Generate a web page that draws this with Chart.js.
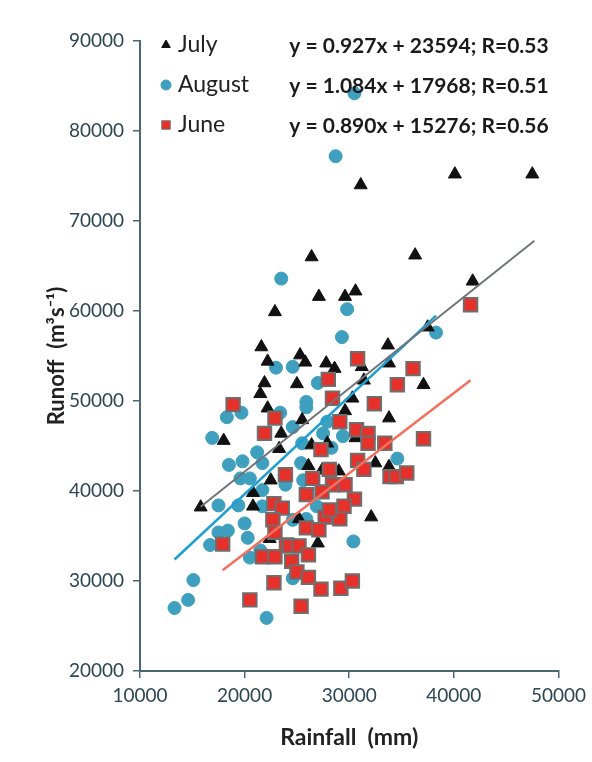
<!DOCTYPE html>
<html>
<head>
<meta charset="utf-8">
<script src="https://cdn.jsdelivr.net/npm/chart.js@4.4.1/dist/chart.umd.min.js"></script>
<style>
  html, body { margin: 0; padding: 0; background: #fff; }
</style>
</head>
<body>
<canvas id="runoffChart" width="592" height="762"></canvas>
<script>
// monthly rainfall (mm) vs runoff
const julyRain = [47500, 40100, 31100, 36300, 26400, 41800, 22900, 27100, 29600, 30600, 37500, 33700, 21600, 22200, 25300, 25800, 27800, 28600, 31200, 33800, 21900, 25000, 31400, 37100, 21500, 30300, 22200, 29600, 25500, 33800, 23500, 18000, 30600, 23300, 26400, 27900, 32500, 33800, 26100, 27400, 29000, 22500, 20800, 15800, 20800, 25200, 32100, 22400, 27000];
const julyRunoff = [75200, 75200, 74000, 66200, 66000, 63300, 59900, 61600, 61600, 62200, 58200, 56200, 56000, 54400, 55100, 54300, 54200, 53600, 53800, 54200, 52000, 51900, 52300, 51800, 50800, 50300, 49200, 48900, 47900, 48100, 46400, 45600, 45900, 44700, 45100, 45300, 43100, 42700, 42800, 42300, 42200, 41200, 39800, 38200, 38300, 36900, 37100, 34700, 34200];

const augRain = [30500, 28700, 23500, 29800, 29300, 38300, 23000, 24600, 27000, 19700, 18300, 25900, 25900, 27900, 24600, 23400, 16900, 29400, 27500, 28300, 21200, 18500, 19800, 21700, 19600, 20500, 23900, 25400, 25600, 34600, 21700, 17500, 19400, 21700, 26900, 20000, 24600, 25900, 17500, 18400, 16700, 20300, 30400, 21500, 20500, 24600, 15100, 14600, 13300, 22100, 25500];
const augRunoff = [84200, 77200, 63600, 60200, 57100, 57600, 53700, 53800, 52000, 48700, 48200, 49900, 49300, 47700, 47100, 48700, 45900, 46100, 46400, 44800, 44300, 42900, 43300, 43100, 41400, 41400, 40700, 43100, 41200, 43600, 40100, 38400, 38400, 38300, 38300, 36400, 36800, 36900, 35400, 35600, 34000, 34800, 34400, 33400, 32600, 30300, 30100, 27900, 27000, 25900, 45300];

const juneRain = [41600, 30800, 28000, 36100, 34600, 28400, 32400, 29100, 18900, 22900, 30700, 31800, 31800, 33400, 37100, 21900, 27300, 30800, 31400, 33900, 34500, 35500, 23900, 28100, 26500, 28400, 29600, 27400, 25900, 30500, 29500, 22800, 23600, 22700, 27700, 29100, 28100, 22900, 25900, 27100, 17900, 24000, 24300, 25200, 26100, 21700, 22900, 24500, 25000, 26100, 27300, 29200, 30300, 22800, 20500, 25400];
const juneRunoff = [60700, 54700, 52400, 53600, 51800, 50300, 49700, 47700, 49600, 48100, 46800, 46400, 45300, 45300, 45800, 46400, 44600, 43400, 42400, 41600, 41600, 42000, 41800, 42400, 41400, 40700, 40700, 39900, 39600, 39100, 38300, 38600, 38100, 36800, 37100, 36900, 37900, 35400, 35900, 35700, 34100, 34000, 33900, 33900, 32900, 32700, 32700, 32200, 31000, 30400, 29100, 29200, 30000, 29800, 27900, 27200];

// fitted lines as printed on the chart, July / August / June
const months = ['July', 'August', 'June'];
const fitSlope = [0.927, 1.084, 0.890];
const fitIntercept = [23594, 17968, 15276];
const fitR = ['0.53', '0.51', '0.56'];
const fitFrom = [15800, 13300, 17900];
const fitTo = [47700, 38300, 41600];

const xTicks = [10000, 50000];
const yTicks = [20000, 90000];

const toPoints = (xs, ys) => xs.map((x, i) => ({ x: x, y: ys[i] }));
const fitLine = (i) => [fitFrom[i], fitTo[i]].map(x => ({ x: x, y: fitSlope[i] * x + fitIntercept[i] }));

const axisColor = '#4a6876';
const markerColors = ['#111111', '#3f9fbe', '#e8302a'];
const markerStyles = ['triangle', 'circle', 'rect'];

const legendPlugin = {
  id: 'monthLegend',
  afterDraw(chart) {
    const ctx = chart.ctx;
    ctx.save();
    months.forEach((m, i) => {
      const y = 45 + i * 40;
      ctx.fillStyle = markerColors[i];
      ctx.strokeStyle = i === 2 ? '#777' : markerColors[i];
      ctx.lineWidth = 1;
      Chart.helpers.drawPoint(ctx, { pointStyle: markerStyles[i], radius: i === 2 ? 6 : 5, borderWidth: 1 }, 166, y);

      ctx.fillStyle = '#222';
      ctx.font = '23px Lato';
      ctx.textAlign = 'left';
      ctx.textBaseline = 'middle';
      ctx.fillText(m, 178, y);

      const eq = 'y = ' + fitSlope[i].toFixed(3) + 'x + ' + fitIntercept[i] + '; R=' + fitR[i];
      ctx.font = 'bold 21px Lato';
      ctx.textAlign = 'center';
      ctx.fillStyle = '#1a1a1a';
      ctx.fillText(eq, 419, y + 1);
    });
    ctx.restore();
  }
};

const ctx = document.getElementById('runoffChart').getContext('2d');
new Chart(ctx, {
  type: 'scatter',
  data: {
    datasets: [
      { label: 'July fit', data: fitLine(0), showLine: true, borderColor: '#6f7478', borderWidth: 2, pointRadius: 0, order: 0 },
      { label: 'August fit', data: fitLine(1), showLine: true, borderColor: '#1f9fd0', borderWidth: 2.5, pointRadius: 0, order: 0 },
      { label: 'June fit', data: fitLine(2), showLine: true, borderColor: '#f2705e', borderWidth: 2.5, pointRadius: 0, order: 0 },
      { label: 'June', data: toPoints(juneRain, juneRunoff), pointStyle: 'rect', pointRadius: 9.5, backgroundColor: '#e8302a', borderColor: '#6e6e6e', borderWidth: 2, order: 1 },
      { label: 'July', data: toPoints(julyRain, julyRunoff), pointStyle: 'triangle', pointRadius: 7.5, backgroundColor: '#111', borderColor: '#111', borderWidth: 1, order: 2 },
      { label: 'August', data: toPoints(augRain, augRunoff), pointStyle: 'circle', pointRadius: 6.5, backgroundColor: '#3f9fbe', borderColor: '#3f9fbe', borderWidth: 1, order: 3 }
    ]
  },
  options: {
    responsive: false,
    animation: false,
    layout: { padding: { top: 41, right: 33, bottom: 0, left: 0 } },
    plugins: { legend: { display: false }, tooltip: { enabled: false } },
    scales: {
      x: {
        type: 'linear',
        min: xTicks[0],
        max: xTicks[1],
        ticks: { stepSize: 10000, padding: 6, color: '#2e4652', font: { family: 'Lato', size: 19 }, callback: v => String(v) },
        grid: { drawOnChartArea: false, color: axisColor, tickLength: 7, lineWidth: 1.5 },
        border: { color: axisColor, width: 2 },
        title: { display: true, text: 'Rainfall  (mm)', color: '#222', font: { family: 'Lato', size: 23, weight: 'bold' }, padding: { top: 0, bottom: 11 } },
        afterFit: s => { s.height = 91; }
      },
      y: {
        type: 'linear',
        min: yTicks[0],
        max: yTicks[1],
        ticks: { stepSize: 10000, padding: 9, color: '#2e4652', font: { family: 'Lato', size: 19 }, callback: v => String(v) },
        grid: { drawOnChartArea: false, color: axisColor, tickLength: 7, lineWidth: 1.5 },
        border: { color: axisColor, width: 2 },
        title: { display: true, text: 'Runoff  (m³s⁻¹)', color: '#222', font: { family: 'Lato', size: 22, weight: 'bold' }, padding: { top: 44, bottom: 0 } },
        afterFit: s => { s.width = 140; }
      }
    }
  },
  plugins: [legendPlugin]
});
</script>
</body>
</html>
